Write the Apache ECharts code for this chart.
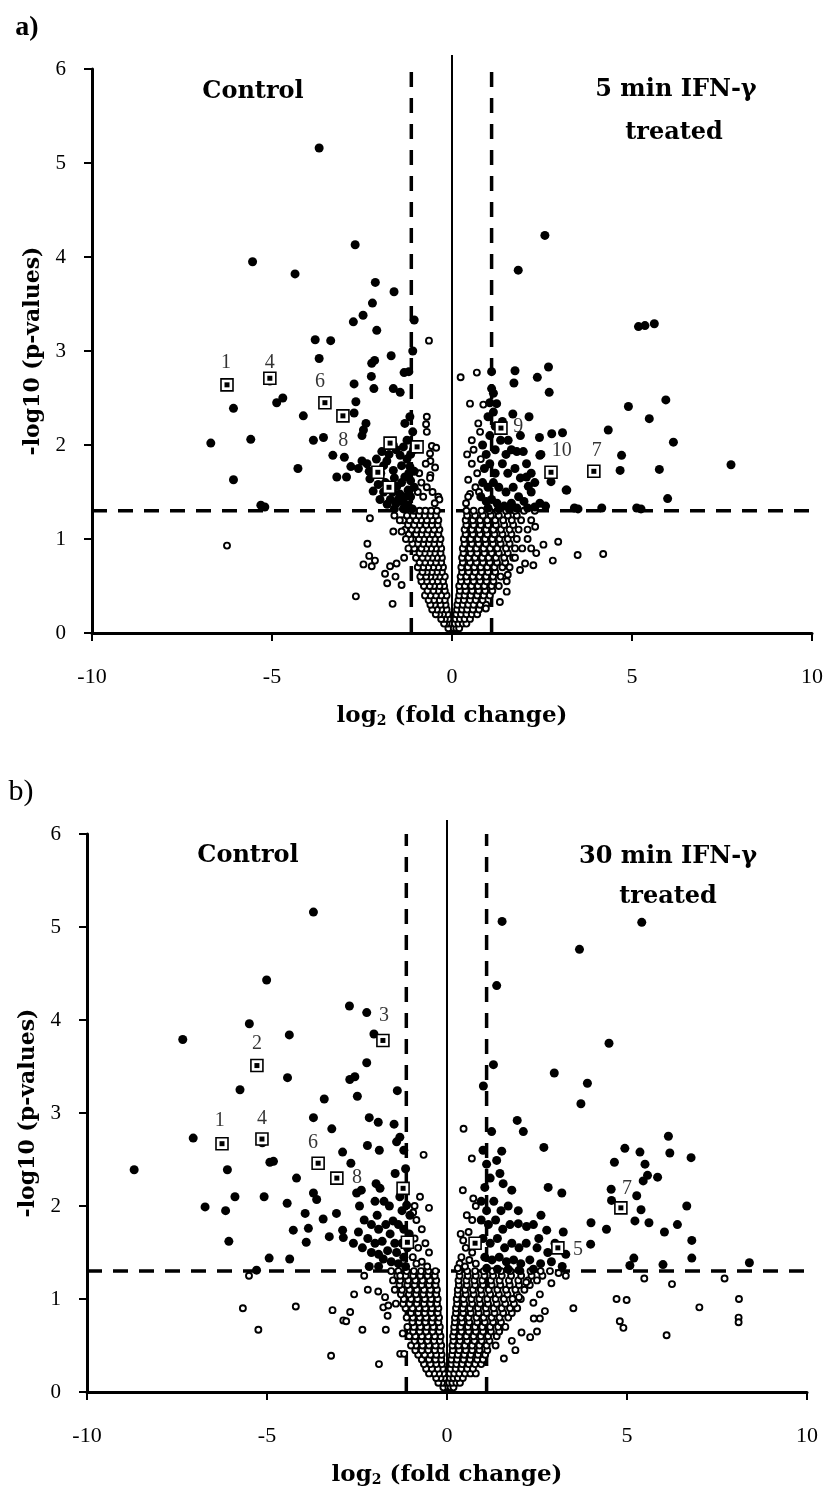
<!DOCTYPE html>
<html><head><meta charset="utf-8">
<script src="https://cdn.jsdelivr.net/npm/echarts@6/dist/echarts.min.js"></script>
<style>html,body{margin:0;padding:0;background:#fff}#c{width:827px;height:1501px}</style>
</head><body><div id="c"></div>
<script>
// ---------- DATA ----------
const xTicks = [-10, -5, 0, 5, 10];
const yTicks = [0, 1, 2, 3, 4, 5, 6];
const pThreshold = 1.3;
const fcLeft = -1.13, fcRight = 1.1;

// Panel a) 5 min — significant (filled)
const aSig = [
[-3.69,5.16],[-2.69,4.13],[-5.54,3.95],[-4.36,3.82],[-2.13,3.73],[-1.61,3.63],[-2.21,3.51],[-2.47,3.38],[-2.74,3.31],[-1.05,3.33],
[-2.09,3.22],[-3.80,3.12],[-3.37,3.11],[-1.09,3.00],[-3.69,2.92],[-1.69,2.95],[-2.15,2.90],[-2.23,2.87],[-1.33,2.77],[-1.20,2.78],
[-2.24,2.73],[-5.06,2.68],[-2.72,2.65],[-2.17,2.60],[-1.63,2.60],[-1.44,2.56],[-4.70,2.50],[-4.87,2.45],[-6.07,2.39],[-2.67,2.46],
[-2.72,2.34],[-4.13,2.31],[-2.39,2.23],[-2.46,2.16],[-2.50,2.10],[-6.70,2.02],[-5.59,2.06],[-3.85,2.05],[-3.57,2.08],[-3.31,1.89],
[-2.99,1.87],[-4.28,1.75],[-6.07,1.63],[-3.20,1.66],[-2.93,1.66],[-2.81,1.77],[-2.19,1.51],[-5.31,1.36],[-5.20,1.34],[-1.31,2.23],
[-1.17,2.30],[-1.09,2.14],[-1.63,2.00],[-1.95,1.93],[-1.44,1.89],[-1.81,1.83],[-2.36,1.80],[-1.98,1.70],[-1.63,1.73],[-1.31,1.66],
[-1.53,1.56],[-1.22,1.52],[-1.71,1.42],[-1.35,1.39],[-1.17,1.77],[-1.07,1.95],[-1.22,1.36],[-2.28,1.64],[-2.50,1.83],[-1.49,1.42],
[-2.10,1.85],[-1.90,1.78],[-1.75,1.90],[-1.55,1.95],[-1.40,1.78],[-1.25,1.85],[-1.15,1.62],[-1.40,1.60],[-1.60,1.65],[-1.85,1.60],
[-2.05,1.58],[-1.90,1.50],[-1.65,1.50],[-1.45,1.48],[-1.30,1.45],[-1.15,1.45],[-1.55,1.38],[-1.80,1.37],[-2.00,1.42],[-1.10,1.32],
[-1.35,1.32],[-1.60,1.32],[-1.25,2.05],[-1.35,1.98],[-1.15,1.90],[-2.30,1.72],[-2.60,1.75],[-1.05,1.72],[-1.05,1.55],[-1.20,1.70],
[2.58,4.23],[1.84,3.86],[5.18,3.26],[5.36,3.27],[5.62,3.29],[2.68,2.83],[1.75,2.79],[1.72,2.66],[2.37,2.72],[2.70,2.56],
[5.94,2.48],[4.90,2.41],[5.48,2.28],[2.14,2.30],[1.69,2.33],[4.34,2.16],[2.43,2.08],[2.77,2.12],[3.07,2.13],[6.15,2.03],
[2.47,1.90],[4.71,1.89],[7.75,1.79],[4.67,1.73],[5.76,1.74],[2.07,1.80],[3.19,1.52],[5.99,1.43],[2.75,1.61],[3.40,1.33],
[4.16,1.33],[5.13,1.33],[5.25,1.32],[3.50,1.32],[1.56,2.05],[1.80,1.93],[1.98,1.93],[1.24,2.44],[1.10,2.78],[2.07,1.66],
[2.12,1.56],[2.44,1.38],[2.44,1.89],[3.17,1.52],[1.10,2.60],[1.15,2.35],
[0.85,2.00],[0.95,1.90],[1.05,2.10],[1.20,1.95],[1.35,2.05],[1.50,1.90],[1.65,1.95],[1.90,2.10],[0.90,1.75],[1.05,1.80],
[1.20,1.70],[1.40,1.80],[1.55,1.70],[1.75,1.75],[1.90,1.65],[0.85,1.60],[1.00,1.55],[1.15,1.60],[1.30,1.55],[1.50,1.50],
[1.70,1.55],[1.85,1.45],[2.00,1.40],[2.20,1.50],[0.80,1.45],[0.95,1.40],[1.10,1.42],[1.25,1.38],[1.45,1.35],[1.65,1.38],
[1.80,1.33],[2.10,1.33],[2.30,1.34],[1.00,1.33],[1.30,1.32],[1.60,1.31],[2.60,1.35],[1.20,2.20],[1.40,2.25],[1.00,2.30],
[2.20,1.70],[2.30,1.60],[1.05,2.45],[1.15,2.55]
];

// Panel a) — non-significant (open), as rows: [y, [x values]]
const aNsRows = [
[0.05,[-0.05,-0.1,0.05,0.12,0.2]],
[0.10,[-0.08,-0.15,-0.22,0.08,0.18,0.3,0.4]],
[0.15,[-0.1,-0.2,-0.3,0.1,0.22,0.35,0.5]],
[0.20,[-0.12,-0.25,-0.35,-0.45,0.12,0.25,0.4,0.55,0.7]],
[0.25,[-0.15,-0.3,-0.42,-0.55,0.14,0.28,0.42,0.58,0.75]],
[0.30,[-0.18,-0.32,-0.48,-0.6,0.15,0.3,0.45,0.6,0.78,0.95]],
[0.35,[-0.2,-0.35,-0.5,-0.65,0.18,0.33,0.5,0.66,0.85]],
[0.40,[-0.15,-0.3,-0.45,-0.6,-0.75,0.2,0.35,0.52,0.7,0.88,1.05]],
[0.45,[-0.2,-0.38,-0.52,-0.68,0.22,0.38,0.56,0.74,0.92,1.12]],
[0.50,[-0.22,-0.35,-0.5,-0.62,-0.78,0.2,0.36,0.54,0.72,0.9,1.1,1.3]],
[0.55,[-0.25,-0.4,-0.55,-0.7,-0.85,0.25,0.42,0.6,0.78,0.96,1.15]],
[0.60,[-0.2,-0.35,-0.48,-0.6,-0.72,-0.88,0.24,0.4,0.58,0.76,0.95,1.14,1.35]],
[0.65,[-0.28,-0.42,-0.56,-0.7,-0.82,0.28,0.46,0.64,0.82,1.0,1.2]],
[0.70,[-0.25,-0.38,-0.52,-0.66,-0.8,-0.95,0.26,0.44,0.62,0.8,0.98,1.18,1.4]],
[0.75,[-0.3,-0.45,-0.6,-0.75,-0.9,0.3,0.5,0.68,0.86,1.05,1.25,1.48]],
[0.80,[-0.28,-0.42,-0.55,-0.68,-0.82,-1.0,0.28,0.46,0.64,0.84,1.02,1.22,1.45,1.7]],
[0.85,[-0.32,-0.48,-0.62,-0.76,-0.9,0.32,0.52,0.7,0.9,1.1,1.3,1.55]],
[0.90,[-0.3,-0.45,-0.58,-0.72,-0.85,-1.05,0.3,0.5,0.68,0.88,1.06,1.26,1.5,1.75,1.95]],
[0.95,[-0.35,-0.5,-0.65,-0.8,-0.95,-1.1,0.35,0.55,0.74,0.94,1.14,1.35,1.6]],
[1.00,[-0.32,-0.48,-0.62,-0.78,-0.92,-1.15,0.33,0.52,0.72,0.92,1.12,1.32,1.55,1.8]],
[1.05,[-0.38,-0.55,-0.7,-0.85,-1.0,-1.2,0.38,0.58,0.78,0.98,1.18,1.4,1.65]],
[1.10,[-0.35,-0.5,-0.66,-0.82,-0.98,-1.12,-1.3,0.35,0.55,0.75,0.95,1.15,1.36,1.6,1.85,2.1]],
[1.15,[-0.4,-0.56,-0.72,-0.9,-1.05,-1.22,0.4,0.6,0.8,1.0,1.22,1.45,1.7]],
[1.20,[-0.38,-0.55,-0.7,-0.86,-1.0,-1.18,-1.35,0.38,0.58,0.78,0.98,1.2,1.42,1.66,1.92,2.2]],
[1.25,[-0.45,-0.6,-0.76,-0.92,-1.08,-1.25,0.42,0.64,0.86,1.08,1.3,1.55,1.8]],
[1.30,[-0.42,-0.58,-0.74,-0.9,-1.06,0.4,0.6,0.82,1.04,1.26,1.5,1.75,2.0,2.3]]
];
const aNsExtra = [
[-0.64,3.11],[-0.70,2.30],[-0.72,2.22],[-0.70,2.14],[-0.56,1.99],[-0.44,1.97],[-0.60,1.83],[-0.47,1.76],[-0.60,1.68],[-0.38,1.45],
[-0.35,1.42],[-0.61,1.91],[-0.73,1.80],[-0.91,1.70],[-0.61,1.65],[-0.54,1.50],[-0.48,1.38],[-0.70,1.55],[-0.85,1.60],[-0.80,1.45],
[-0.95,1.50],[-2.28,1.22],[-2.35,0.95],[-2.30,0.82],[-2.46,0.73],[-2.23,0.71],[-2.14,0.77],[-2.67,0.39],[-1.86,0.63],[-1.80,0.53],
[-1.65,0.31],[-1.72,0.71],[-1.54,0.74],[-1.57,0.60],[-1.40,0.51],[-1.33,0.80],[-1.21,0.90],[-1.63,1.08],[-1.40,1.08],[-1.28,1.00],
[-6.25,0.93],[-1.45,1.20],[-1.60,1.25],
[0.24,2.72],[0.69,2.77],[0.50,2.44],[0.87,2.43],[0.73,2.23],[0.78,2.14],[0.45,1.63],[0.50,1.48],[0.39,1.38],[0.55,1.80],
[0.60,1.95],[0.70,1.70],[0.65,1.55],[0.45,1.45],[0.75,1.50],[0.55,2.05],[0.80,1.85],[0.42,1.90],
[2.31,1.13],[2.54,0.94],[2.95,0.97],[3.49,0.83],[4.20,0.84],[2.80,0.77],[2.26,0.72],[2.03,0.74],[1.89,0.67],[2.34,0.85],
[1.55,0.62],[1.52,0.44],[1.33,0.33],[0.94,0.26],[1.52,0.55],[1.60,0.70],[1.75,0.80],[2.10,1.00],[2.20,0.90]
];
const aBoxes = [[-6.25,2.64],[-5.06,2.71],[-3.53,2.45],[-3.03,2.31],[-1.72,2.02],[-0.97,1.98],[-2.06,1.71],[-1.75,1.55],[1.36,2.18],[2.75,1.71],[3.94,1.72]];
const aLabelText = ['1','4','6','8','9','10','7'];
const aLabelX = [-6.28,-5.06,-3.67,-3.02,1.84,3.05,4.02];
const aLabelY = [2.88,2.88,2.67,2.04,2.19,1.94,1.94];

// Panel b) 30 min — significant (filled)
const bSig = [
[-3.71,5.16],[-5.01,4.43],[-2.71,4.15],[-2.23,4.08],[-5.49,3.96],[-4.38,3.84],[-7.34,3.79],[-2.03,3.85],[-2.23,3.54],[-4.43,3.38],
[-2.70,3.36],[-2.56,3.39],[-5.75,3.25],[-1.38,3.24],[-2.49,3.18],[-3.41,3.15],[-3.71,2.95],[-2.16,2.95],[-1.91,2.90],[-1.47,2.88],
[-3.20,2.83],[-7.05,2.73],[-5.13,2.68],[-1.40,2.69],[-1.31,2.74],[-2.21,2.65],[-1.88,2.60],[-4.82,2.48],[-4.92,2.47],[-2.90,2.58],
[-2.67,2.46],[-6.10,2.39],[-8.69,2.39],[-4.18,2.30],[-1.44,2.35],[-1.97,2.24],[-1.86,2.19],[-2.51,2.14],[-2.38,2.17],[-3.71,2.14],
[-3.62,2.07],[-5.89,2.10],[-5.08,2.10],[-6.72,1.99],[-6.15,1.95],[-4.44,2.03],[-3.94,1.92],[-3.44,1.86],[-3.07,1.92],[-2.43,2.00],
[-4.27,1.74],[-3.85,1.76],[-3.27,1.67],[-2.90,1.74],[-2.88,1.66],[-2.46,1.72],[-3.91,1.61],[-6.06,1.62],[-4.94,1.44],[-4.37,1.43],
[-5.29,1.31],[-2.16,1.35],[-1.50,1.84],[-1.94,1.90],[-1.58,1.70],[-1.77,1.43],[-1.03,1.90],[-1.31,2.10],[-1.12,2.01],
[-2.30,1.85],[-2.10,1.80],[-1.90,1.75],[-1.70,1.80],[-1.35,1.80],[-1.20,1.75],[-2.20,1.65],[-2.00,1.60],[-1.80,1.62],[-1.45,1.60],
[-1.25,1.60],[-2.10,1.50],[-1.90,1.48],[-1.65,1.52],[-1.40,1.50],[-1.20,1.45],[-1.55,1.40],[-1.35,1.38],[-1.15,1.35],[-1.90,1.35],
[-2.35,1.55],[-2.60,1.60],[-1.10,1.55],[-1.25,1.95],[-1.60,2.00],[-1.75,2.05],[-1.05,1.70],[-2.00,2.05],[-1.15,2.40],[-1.20,2.60],
[1.53,5.06],[5.41,5.05],[3.68,4.76],[1.38,4.37],[4.50,3.75],[1.29,3.52],[2.98,3.43],[3.90,3.32],[3.72,3.10],[1.01,3.29],
[1.95,2.92],[2.12,2.80],[1.24,2.80],[6.15,2.75],[2.69,2.63],[4.94,2.62],[5.36,2.58],[6.19,2.57],[6.78,2.52],[4.65,2.47],
[5.50,2.45],[1.52,2.59],[5.57,2.33],[5.85,2.31],[5.45,2.27],[2.81,2.20],[3.19,2.14],[4.56,2.18],[5.27,2.11],[4.57,2.06],
[6.66,2.00],[5.39,1.96],[5.22,1.84],[5.61,1.82],[6.40,1.80],[4.00,1.82],[4.43,1.75],[6.04,1.72],[2.61,1.90],[6.80,1.63],
[3.99,1.59],[6.80,1.44],[5.19,1.44],[5.08,1.36],[6.00,1.37],[8.40,1.39],[3.23,1.72],[2.77,1.74],[1.98,1.95],[1.98,1.81],
[2.21,1.78],[1.47,2.35],[1.38,2.49],[1.56,2.24],[1.80,2.17],[1.00,2.60],[1.05,2.20],[1.10,2.45],
[0.95,2.05],[1.10,1.95],[1.30,2.05],[1.50,1.95],[1.70,2.00],[0.95,1.85],[1.15,1.80],[1.35,1.85],[1.55,1.75],[1.75,1.80],
[2.40,1.80],[1.00,1.65],[1.20,1.60],[1.40,1.65],[1.60,1.55],[1.80,1.60],[2.00,1.55],[2.20,1.60],[2.50,1.55],[2.80,1.50],
[1.05,1.45],[1.25,1.42],[1.45,1.45],[1.65,1.40],[1.85,1.42],[2.05,1.38],[2.30,1.42],[2.60,1.38],[2.90,1.40],[3.20,1.35],
[1.10,1.33],[1.40,1.32],[1.70,1.32],[2.00,1.31],[2.40,1.32],[1.20,2.30],[3.00,1.60],[3.30,1.48],[2.55,1.65]
];
const bNsRows = [
[0.05,[-0.04,-0.1,0.04,0.1,0.18]],
[0.10,[-0.06,-0.14,-0.24,0.06,0.15,0.26,0.36]],
[0.15,[-0.08,-0.18,-0.3,0.08,0.18,0.3,0.44]],
[0.20,[-0.1,-0.22,-0.36,-0.5,0.08,0.2,0.34,0.5,0.65,0.8]],
[0.25,[-0.12,-0.26,-0.42,-0.58,0.1,0.24,0.4,0.56,0.72]],
[0.30,[-0.14,-0.3,-0.46,-0.64,0.12,0.26,0.42,0.6,0.78,0.95]],
[0.35,[-0.16,-0.32,-0.5,-0.7,0.12,0.28,0.46,0.64,0.84,1.0]],
[0.40,[-0.15,-0.3,-0.46,-0.62,-0.8,0.14,0.3,0.48,0.66,0.86,1.06]],
[0.45,[-0.18,-0.34,-0.52,-0.7,-0.88,0.16,0.34,0.52,0.7,0.9,1.12]],
[0.50,[-0.16,-0.32,-0.5,-0.68,-0.86,-1.0,0.15,0.32,0.5,0.7,0.9,1.1,1.35]],
[0.55,[-0.2,-0.36,-0.54,-0.72,-0.9,0.18,0.36,0.56,0.76,0.96,1.18]],
[0.60,[-0.18,-0.34,-0.52,-0.7,-0.88,-1.05,0.17,0.35,0.54,0.74,0.94,1.14,1.38]],
[0.65,[-0.22,-0.4,-0.58,-0.76,-0.94,0.2,0.4,0.6,0.8,1.0,1.22,1.45]],
[0.70,[-0.2,-0.38,-0.56,-0.74,-0.92,-1.1,0.2,0.38,0.58,0.78,0.98,1.2,1.42,1.62]],
[0.75,[-0.24,-0.42,-0.6,-0.78,-0.96,0.22,0.42,0.62,0.84,1.05,1.28,1.5]],
[0.80,[-0.22,-0.4,-0.58,-0.76,-0.95,-1.12,0.22,0.4,0.6,0.82,1.02,1.24,1.46,1.7]],
[0.85,[-0.26,-0.44,-0.62,-0.8,-1.0,0.25,0.45,0.66,0.88,1.1,1.32,1.56,1.8]],
[0.90,[-0.24,-0.42,-0.6,-0.78,-0.96,-1.15,0.25,0.44,0.64,0.86,1.08,1.3,1.52,1.75,1.95]],
[0.95,[-0.28,-0.46,-0.64,-0.84,-1.04,-1.22,0.28,0.48,0.7,0.92,1.14,1.38,1.62,1.86]],
[1.00,[-0.26,-0.44,-0.62,-0.82,-1.0,-1.2,0.27,0.46,0.68,0.9,1.12,1.35,1.58,1.82,2.05]],
[1.05,[-0.3,-0.48,-0.66,-0.86,-1.06,-1.28,0.3,0.52,0.74,0.96,1.2,1.44,1.68,1.94]],
[1.10,[-0.28,-0.46,-0.64,-0.84,-1.04,-1.25,-1.45,0.3,0.5,0.72,0.94,1.16,1.4,1.64,1.9,2.15]],
[1.15,[-0.32,-0.5,-0.7,-0.9,-1.1,-1.32,0.33,0.55,0.78,1.0,1.24,1.48,1.74,2.0,2.3]],
[1.20,[-0.3,-0.48,-0.68,-0.88,-1.08,-1.3,-1.5,0.32,0.54,0.76,0.98,1.22,1.46,1.72,1.98,2.25,2.5]],
[1.25,[-0.34,-0.54,-0.74,-0.94,-1.15,-1.38,0.35,0.58,0.8,1.04,1.28,1.52,1.78,2.06,2.35,2.65]],
[1.30,[-0.32,-0.52,-0.72,-0.92,-1.12,-1.35,-1.55,0.34,0.56,0.78,1.02,1.26,1.5,1.76,2.04,2.32,2.6,2.86]]
];
const bNsExtra = [
[-0.94,1.93],[-0.85,1.85],[-0.70,1.75],[-0.90,1.65],[-0.60,1.60],[-0.80,1.55],[-0.50,1.50],[-0.95,1.45],[-0.70,1.40],[-0.55,1.35],
[-0.85,1.38],[-0.65,2.55],[-0.90,2.00],[-0.75,2.10],[-0.50,1.98],
[-4.20,0.92],[-5.24,0.67],[-3.22,0.39],[-3.18,0.88],[-2.69,0.86],[-2.88,0.77],[-2.80,0.76],[-2.35,0.67],[-2.58,1.05],[-2.20,1.10],
[-1.91,1.08],[-1.72,1.02],[-1.77,0.91],[-1.63,0.93],[-1.42,0.95],[-1.65,0.82],[-1.70,0.67],[-1.89,0.30],[-1.23,0.63],[-1.30,0.41],
[-1.19,0.41],[-5.67,0.90],[-5.50,1.25],[-2.30,1.25],[-1.30,1.25],
[0.46,2.83],[0.69,2.51],[0.44,2.17],[0.73,2.08],[0.80,2.00],[0.45,1.63],[0.60,1.72],[0.38,1.70],[0.52,1.55],[0.70,1.50],
[0.40,1.45],[0.62,1.42],[0.85,1.60],[0.55,1.90],[0.70,1.85],[0.35,1.38],[0.80,1.38],[0.50,1.35],[0.30,1.33],
[3.51,0.90],[4.71,1.00],[4.99,0.99],[4.80,0.76],[4.90,0.69],[1.58,0.36],[2.72,0.87],[2.58,0.79],[2.41,0.79],[2.31,0.59],
[2.50,0.65],[2.07,0.64],[2.90,1.17],[2.58,1.05],[2.40,0.96],[2.00,1.02],[2.20,1.18],[5.48,1.22],[6.10,0.61],[6.25,1.16],
[7.01,0.91],[7.71,1.22],[8.11,1.00],[8.10,0.80],[8.10,0.75],[3.30,1.25],[3.10,1.28],[1.80,0.55],[1.90,0.45]
];
const bBoxes = [[-6.25,2.67],[-5.28,3.51],[-1.78,3.78],[-5.14,2.72],[-3.58,2.46],[-3.06,2.30],[-1.22,2.19],[-1.10,1.61],[4.83,1.98],[3.08,1.55],[0.78,1.60]];
const bLabelText = ['1','2','3','4','6','8','7','5'];
const bLabelX = [-6.31,-5.28,-1.75,-5.14,-3.72,-2.50,5.00,3.64];
const bLabelY = [2.92,3.75,4.05,2.94,2.68,2.30,2.19,1.53];

const panelLetters = ['a)', 'b)'];
const leftTitles = ['Control', 'Control'];
const rightTitles = [['5 min IFN-γ', 'treated'], ['30 min IFN-γ', 'treated']];

// ---------- BUILD ----------
function flatRows(rows){ const out=[]; rows.forEach(r=>r[1].forEach(x=>out.push([x,r[0]]))); return out; }
const SERIF = 'Liberation Serif', WIDE = 'DejaVu Serif';

const grids = [
  {left:92, top:69, width:720, height:564},
  {left:87, top:834, width:720, height:558}
];

function xAx(i){ return {
  type:'value', gridIndex:i, min:xTicks[0], max:xTicks[xTicks.length-1], interval:5,
  axisLine:{onZero:false, lineStyle:{color:'#000', width:3}},
  axisTick:{show:true, length:8, lineStyle:{color:'#000', width:2}},
  axisLabel:{color:'#000', fontFamily:SERIF, fontSize:22, margin:33},
  splitLine:{show:false},
  name:'log{s|2} (fold change)', nameLocation:'middle', nameGap:71,
  nameTextStyle:{color:'#000', fontFamily:WIDE, fontWeight:'bold', fontSize:23,
    rich:{s:{fontFamily:WIDE, fontWeight:'bold', fontSize:14, color:'#000', verticalAlign:'bottom', padding:[10,0,0,0]}}}
};}
function yAx(i){ return {
  type:'value', gridIndex:i, min:yTicks[0], max:yTicks[yTicks.length-1], interval:1,
  axisLine:{onZero:false, lineStyle:{color:'#000', width:3}},
  axisTick:{show:true, length:8, lineStyle:{color:'#000', width:2}},
  axisLabel:{color:'#000', fontFamily:SERIF, fontSize:21, margin:26},
  splitLine:{show:false},
  name:'-log10 (p-values)', nameLocation:'middle', nameGap:47, nameRotate:90,
  nameTextStyle:{color:'#000', fontFamily:WIDE, fontWeight:'bold', fontSize:22}
};}

function refLine(i, pts, dashed, width){
  return {type:'line', xAxisIndex:i, yAxisIndex:i, data:pts, symbol:'none', clip:false, silent:true, z:1,
    lineStyle:{color:'#000', width:width, type: dashed ? [15,11] : 'solid'}};
}

function panelSeries(i, sig, nsRows, nsExtra, boxes, lt, lx, ly){
  const ns = flatRows(nsRows).concat(nsExtra);
  const labels = lt.map((t,k)=>({name:t, value:[lx[k], ly[k]]}));
  return [
    refLine(i, [[xTicks[0],pThreshold],[xTicks[xTicks.length-1],pThreshold]], true, 3.5),
    refLine(i, [[fcLeft,0],[fcLeft,6]], true, 3.5),
    refLine(i, [[fcRight,0],[fcRight,6]], true, 3.5),
    refLine(i, [[0,0],[0,6.15]], false, 2),
    {type:'scatter', xAxisIndex:i, yAxisIndex:i, data:ns, symbol:'circle', symbolSize:6, z:2,
      itemStyle:{color:'#fff', borderColor:'#000', borderWidth:1.9, opacity:1}},
    {type:'scatter', xAxisIndex:i, yAxisIndex:i, data:sig, symbol:'circle', symbolSize:9, z:3,
      itemStyle:{color:'#000', opacity:1}},
    {type:'scatter', xAxisIndex:i, yAxisIndex:i, data:boxes, symbol:'rect', symbolSize:12, z:4,
      itemStyle:{color:'#fff', borderColor:'#000', borderWidth:1.6, opacity:1}},
    {type:'scatter', xAxisIndex:i, yAxisIndex:i, data:boxes, symbol:'rect', symbolSize:5, z:5,
      itemStyle:{color:'#000', opacity:1}},
    {type:'scatter', xAxisIndex:i, yAxisIndex:i, data:labels, symbolSize:1, z:6,
      itemStyle:{color:'rgba(0,0,0,0)'},
      label:{show:true, position:'inside', formatter:p=>p.name, color:'#000', textBorderWidth:0,
        fontFamily:SERIF, fontSize:20}}
  ];
}

function txt(x, y, s, size, font, weight){
  return {type:'text', x:x, y:y, z:10,
    style:{text:s, x:0, y:0, fill:'#000', font:(weight||'normal')+' '+size+'px "'+font+'"', textAlign:'center', textVerticalAlign:'middle'}};
}

const option = {
  animation:false,
  backgroundColor:'#fff',
  grid:grids.map(g=>Object.assign({outerBoundsMode:'none'}, g)),
  xAxis:[xAx(0), xAx(1)],
  yAxis:[yAx(0), yAx(1)],
  series:[].concat(
    panelSeries(0, aSig, aNsRows, aNsExtra, aBoxes, aLabelText, aLabelX, aLabelY),
    panelSeries(1, bSig, bNsRows, bNsExtra, bBoxes, bLabelText, bLabelX, bLabelY)
  ),
  graphic:[
    txt(27, 28, panelLetters[0], 28, SERIF, 'bold'),
    txt(21, 792, panelLetters[1], 30, SERIF, 'normal'),
    txt(253, 92, leftTitles[0], 24, WIDE, 'bold'),
    txt(676, 90, rightTitles[0][0], 24, WIDE, 'bold'),
    txt(674, 133, rightTitles[0][1], 24, WIDE, 'bold'),
    txt(248, 856, leftTitles[1], 24, WIDE, 'bold'),
    txt(668, 857, rightTitles[1][0], 24, WIDE, 'bold'),
    txt(668, 897, rightTitles[1][1], 24, WIDE, 'bold')
  ]
};
const chart = echarts.init(document.getElementById('c'), null, {renderer:'canvas'});
chart.setOption(option);
</script>
</body></html>
